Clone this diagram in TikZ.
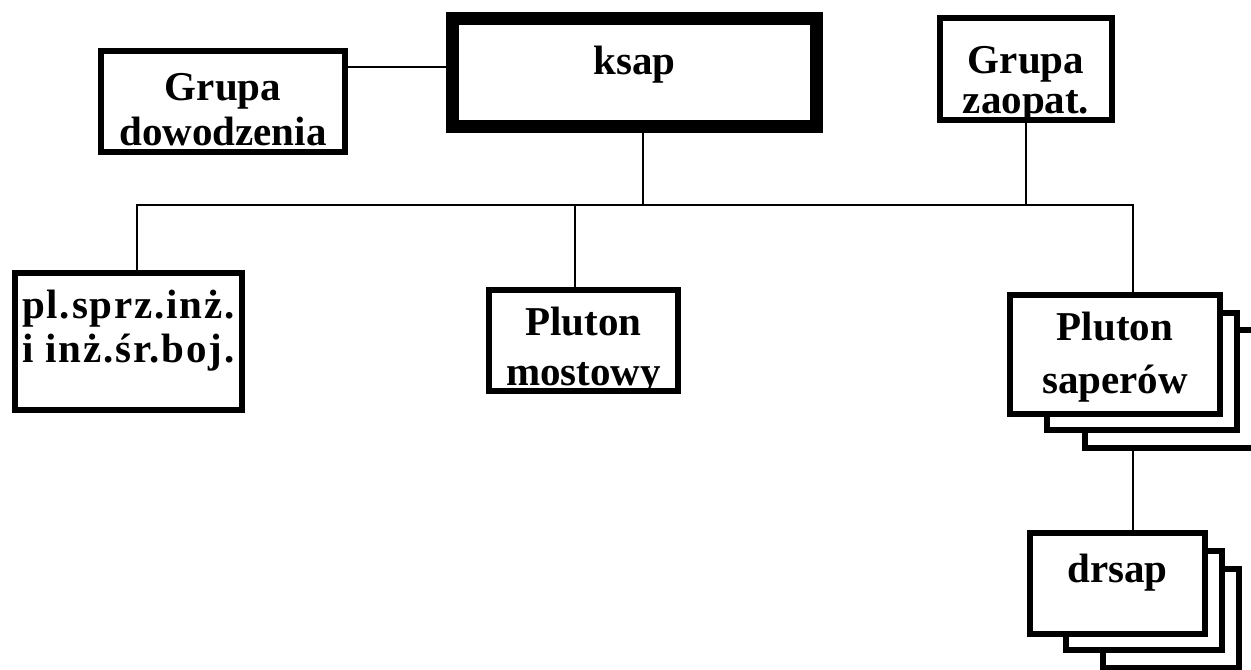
\documentclass[tikz,border=0pt]{standalone}
\usepackage{fontspec}
\setmainfont{Liberation Serif}
\usetikzlibrary{positioning,calc}

\begin{document}
\begin{tikzpicture}[x=0.5pt,y=-0.5pt,
    box/.style={draw,line width=3pt,fill=white,inner sep=0pt,align=center,
      font=\bfseries\fontsize{20.5}{22}\selectfont},
    card/.style={draw,line width=3pt,fill=white,inner sep=0pt},
    link/.style={line width=1.25pt}]
        \useasboundingbox (0,0) rectangle (1251,669);
        \clip (0,0) rectangle (1251,669);
        \node[box,line width=6.5pt,minimum width=182pt,minimum height=54pt,text height=11pt,text depth=9.5pt] (ksap) at (634.5,72.5) {ksap};
        \node[box,minimum width=122pt,minimum height=50.5pt,text height=44.5pt,text depth=0.5pt] (gdow) at (223,101.5) {Grupa\\[0.5pt]dowodzenia};
        \node[box,minimum width=86pt,minimum height=51pt,text height=45pt,text depth=0.5pt] (gzao) at (1026,69) {Grupa\\[-2pt]zaopat.};
        \node[box,minimum width=113.5pt,minimum height=68.5pt,text height=31pt,text depth=10pt,
          font=\bfseries\fontsize{20.5}{22}\selectfont\addfontfeature{LetterSpace=4.5}] (plsprz) at (128.5,341.5) {pl.sprz.inż.\\i inż.śr.boj.};
        \node[box,minimum width=94.5pt,minimum height=50.5pt,text height=45pt,text depth=0pt] (most) at (583.5,340.5) {Pluton\\[3pt]mostowy};
        % stacked cards
        \node[card,minimum width=87pt,minimum height=59pt] (saper3) at (1172,389) {};
        \node[card,minimum width=95pt,minimum height=58.5pt] (saper2) at (1142,371.5) {};
        \node[box,minimum width=105pt,minimum height=59.5pt,text height=42pt,text depth=3pt] (saper) at (1115,354.5) {Pluton\\[4.5pt]saperów};
        \node[card,minimum width=68pt,minimum height=49.5pt] (drsap3) at (1171,618.5) {};
        \node[card,minimum width=78pt,minimum height=49.5pt] (drsap2) at (1144,600.5) {};
        \node[box,minimum width=87.5pt,minimum height=50.5pt,text height=10pt,text depth=11pt] (drsap) at (1117.5,583.5) {drsap};
        % connectors
        \coordinate (busL) at (137,205);
        \coordinate (busR) at (1133,205);
        \draw[link] ([yshift=2.75pt]ksap.west) -- ([yshift=2.75pt]ksap.west -| gdow.east);
        \draw[link] ([xshift=4.25pt]ksap.south) -- ([xshift=4.25pt]ksap.south |- busL);
        \draw[link] (gzao.south) -- (gzao.south |- busL);
        \draw[link] (busL |- plsprz.north) -- (busL) -- (busR) -- (busR |- saper.north);
        \draw[link] ([xshift=-4.25pt]most.north) -- ([xshift=-4.25pt]most.north |- busL);
        \draw[link] (saper3.south -| busR) -- (drsap.north -| busR);
\end{tikzpicture}
\end{document}
